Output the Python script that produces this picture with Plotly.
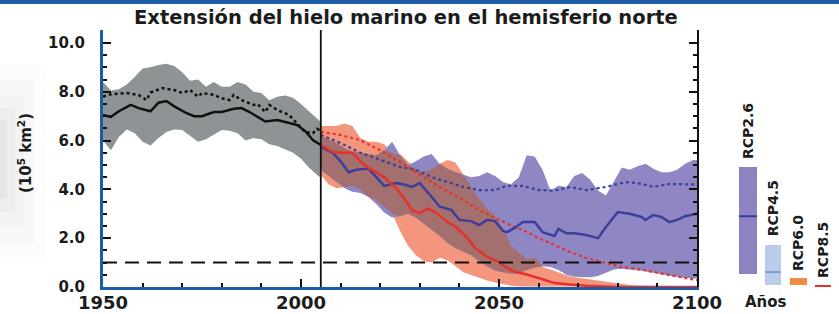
import numpy as np
import plotly.graph_objects as go

# ---------------- data ----------------
# Historical (CMIP5) 1950-2005
HIST_BAND_YEARS = [1950, 1952, 1954, 1956, 1958, 1960, 1962, 1964, 1966, 1968, 1970, 1972, 1974, 1976,
                   1978, 1980, 1982, 1984, 1986, 1988, 1990, 1992, 1994, 1996, 1998, 2000, 2002, 2004, 2005]
HIST_UPPER = [8.4, 8.05, 8.1, 8.3, 8.6, 8.95, 9.0, 9.1, 9.15, 9.05, 8.8, 8.45, 8.5, 8.2,
              8.4, 8.2, 8.2, 8.4, 8.3, 8.0, 7.95, 7.65, 7.8, 7.85, 7.75, 7.5, 7.2, 6.9, 6.76]
HIST_LOWER = [6.0, 5.6, 6.15, 6.45, 6.3, 5.95, 5.8, 6.1, 6.35, 6.45, 6.43, 6.2, 5.95, 6.05,
              6.25, 6.43, 6.4, 6.3, 6.0, 6.1, 6.05, 5.85, 5.78, 5.65, 5.5, 5.25, 4.9, 4.6, 4.47]

HIST_MEAN_YEARS = [1950, 1952, 1954, 1957, 1959, 1962, 1964, 1966, 1968, 1971, 1973, 1975, 1978, 1980,
                   1983, 1985, 1987, 1989, 1991, 1994, 1996, 1999, 2001, 2003, 2005]
HIST_MEAN = [7.05, 6.97, 7.2, 7.46, 7.33, 7.2, 7.55, 7.62, 7.4, 7.13, 7.0, 7.0, 7.17, 7.17,
             7.3, 7.33, 7.17, 6.97, 6.78, 6.84, 6.76, 6.64, 6.4, 6.02, 5.82]

HIST_SUB_YEARS = [1950, 1952, 1956, 1959, 1961, 1962, 1965, 1968, 1970, 1972, 1974, 1975, 1978, 1980,
                  1982, 1983, 1985, 1988, 1989, 1991, 1992, 1994, 1997, 1999, 2001, 2003, 2004, 2005]
HIST_SUB = [7.8, 7.9, 7.95, 7.87, 7.66, 7.97, 8.15, 8.07, 7.95, 8.07, 7.8, 7.95, 7.87, 7.73,
            7.66, 7.87, 7.66, 7.46, 7.5, 7.17, 7.46, 7.25, 7.05, 6.72, 6.35, 6.3, 6.48, 6.4]

# Projections 2005-2100 (bands on a common grid)
PROJ_YEARS = [2005, 2007, 2009, 2011, 2013, 2015, 2017, 2019, 2021, 2023, 2025, 2027, 2029, 2031,
              2033, 2035, 2037, 2039, 2041, 2043, 2045, 2047, 2049, 2051, 2053, 2055, 2057, 2059,
              2061, 2063, 2065, 2067, 2069, 2071, 2073, 2075, 2077, 2079, 2081, 2083, 2085, 2087,
              2089, 2091, 2093, 2095, 2097, 2099, 2100]
RCP85_UPPER = [6.6, 6.6, 6.6, 6.7, 6.6, 6.1, 5.95, 5.95, 5.85, 5.5, 5.45, 5.15, 4.85, 4.7,
               4.8, 5.05, 5.2, 5.1, 4.6, 4.1, 3.6, 3.2, 2.9, 2.4, 1.7, 1.4, 1.15, 1.2,
               0.82, 0.72, 0.6, 0.48, 0.4, 0.35, 0.3, 0.25, 0.2, 0.15, 0.1, 0.08, 0.06, 0.05,
               0.04, 0.04, 0.03, 0.03, 0.03, 0.02, 0.02]
RCP85_LOWER = [4.6, 4.2, 4.05, 4.1, 4.15, 4.0, 3.7, 3.55, 3.3, 3.0, 2.3, 1.7, 1.3, 1.05,
               1.0, 1.2, 1.1, 0.85, 0.6, 0.5, 0.38, 0.27, 0.18, 0.1, 0.05, 0.02, 0, 0,
               0, 0, 0, 0, 0, 0, 0, 0, 0, 0, 0, 0, 0, 0,
               0, 0, 0, 0, 0, 0, 0]
RCP26_UPPER = [6.2, 6.05, 5.9, 5.7, 5.55, 5.5, 5.45, 5.4, 5.6, 5.95, 5.4, 5.0, 5.15, 5.35,
               5.45, 5.05, 4.85, 4.7, 4.6, 4.5, 4.55, 4.7, 4.55, 4.3, 4.2, 4.5, 5.4, 5.35,
               4.8, 3.95, 4.15, 4.1, 4.55, 4.67, 4.4, 3.95, 3.75, 4.35, 4.9, 4.8, 4.95, 5.05,
               4.85, 4.7, 4.7, 4.8, 5.05, 5.2, 5.2]
RCP26_LOWER = [4.8, 4.55, 4.3, 4.05, 3.9, 3.85, 3.7, 3.4, 3.05, 2.85, 2.9, 3.0, 2.85, 2.6,
               2.35, 2.1, 1.8, 1.6, 1.45, 1.3, 1.05, 0.85, 0.68, 0.6, 0.55, 0.55, 0.7, 0.8,
               0.85, 0.82, 0.7, 0.5, 0.42, 0.4, 0.4, 0.45, 0.6, 0.72, 0.75, 0.72, 0.7, 0.65,
               0.58, 0.52, 0.46, 0.42, 0.38, 0.35, 0.35]

RCP85_MED_YEARS = [2005, 2008, 2010, 2013, 2015, 2017, 2019, 2021, 2023, 2024, 2026, 2028, 2030, 2032,
                   2034, 2037, 2039, 2042, 2044, 2047, 2050, 2052, 2054, 2056, 2060, 2064, 2068, 2072,
                   2077, 2080, 2100]
RCP85_MED = [5.82, 5.53, 5.5, 5.5, 5.15, 4.88, 4.7, 4.5, 4.2, 4.05, 3.65, 3.15, 3.03, 3.22,
             3.05, 2.66, 2.48, 2.0, 1.6, 1.23, 1.02, 0.78, 0.62, 0.55, 0.37, 0.16, 0.1, 0.05,
             0.02, 0.0, 0.0]

RCP26_MED_YEARS = [2005, 2008, 2010, 2012, 2014, 2017, 2019, 2021, 2024, 2026, 2028, 2030, 2033, 2035,
                   2038, 2040, 2043, 2045, 2047, 2049, 2051, 2052, 2054, 2056, 2059, 2061, 2064, 2065,
                   2067, 2069, 2072, 2075, 2077, 2080, 2083, 2086, 2087, 2089, 2091, 2093, 2095, 2097,
                   2100]
RCP26_MED = [5.74, 5.5, 5.15, 4.7, 4.8, 4.85, 4.5, 4.14, 4.26, 4.2, 4.1, 4.26, 3.69, 3.3,
             3.15, 2.75, 2.7, 2.54, 2.75, 2.7, 2.3, 2.25, 2.42, 2.66, 2.66, 2.25, 2.09, 2.38,
             2.2, 2.2, 2.13, 2.0, 2.46, 3.07, 3.0, 2.87, 2.75, 2.95, 2.87, 2.66, 2.75, 2.9,
             3.0]

RCP26_SUB_YEARS = [2005, 2010, 2015, 2020, 2025, 2029, 2033, 2037, 2041, 2045, 2049, 2052, 2056, 2060,
                   2064, 2068, 2072, 2077, 2082, 2085, 2089, 2093, 2098, 2100]
RCP26_SUB = [6.23, 5.9, 5.5, 5.2, 4.92, 4.8, 4.5, 4.3, 4.1, 3.97, 3.97, 4.15, 4.14, 3.97,
             3.95, 4.1, 3.97, 4.1, 4.3, 4.26, 4.1, 4.22, 4.2, 4.2]

RCP85_SUB_YEARS = [2005, 2010, 2015, 2020, 2025, 2030, 2035, 2040, 2045, 2050, 2054, 2056, 2060, 2064,
                   2068, 2072, 2077, 2081, 2085, 2089, 2093, 2098, 2100]
RCP85_SUB = [6.35, 6.23, 6.02, 5.6, 5.12, 4.6, 4.1, 3.65, 3.15, 2.75, 2.45, 2.34, 2.0, 1.72,
             1.43, 1.19, 0.98, 0.82, 0.74, 0.62, 0.49, 0.33, 0.28]

THRESHOLD = 1.0
REF_YEAR = 2005
X_RANGE = [1950, 2100]

# 2081-2100 ranges (legend bars)
SCENARIOS = ["RCP2.6", "RCP4.5", "RCP6.0", "RCP8.5"]
SCEN_LOW = [0.53, 0.08, 0.08, 0.0]
SCEN_HIGH = [4.9, 1.72, 0.37, 0.1]
SCEN_MED = [2.9, 0.61, None, None]
SCEN_LABEL_BASE = [5.16, 2.0, 0.57, 0.29]

Y_TICKS = [0, 2, 4, 6, 8, 10]
X_TICKS = [1950, 2000, 2050, 2100]

# ---------------- styling ----------------
FONT = "DejaVu Sans"
TXT = "#1c1c1c"
BLUE_AX = "#1f5ca6"
GREY = "#8e9496"
SALMON = "#f4967d"
PURPLE = "#8f87c3"
BROWN = "#a3706f"
RED = "#e8302a"
NAVY = "#3c3f9a"
SCEN_COLORS = ["#8c84c0", "#b9cdea", "#f08c45", "#e8302a"]
SCEN_MED_COLORS = ["#3d3f9a", "#7f9fd0", "#f08c45", "#e8302a"]
SCEN_WIDTHS = [0.72, 0.64, 0.68, 0.64]

Y_MAX = 10.53

# plot area in pixels
L, R, T, B = 103, 5, 30, 27
W, H = 839, 314
PW, PH = W - L - R, H - T - B


def px_x(px):
    return (px - L) / PW


def px_y(py):
    return (H - B - py) / PH


def band(x, lo, hi, color):
    x = list(x)
    return go.Scatter(x=x + x[::-1], y=list(hi) + list(lo)[::-1], fill="toself",
                      fillcolor=color, line=dict(width=0), mode="lines",
                      hoverinfo="skip", showlegend=False)


fig = go.Figure()

fig.add_trace(band(HIST_BAND_YEARS, HIST_LOWER, HIST_UPPER, GREY))
fig.add_trace(band(PROJ_YEARS, RCP85_LOWER, RCP85_UPPER, SALMON))
fig.add_trace(band(PROJ_YEARS, RCP26_LOWER, RCP26_UPPER, PURPLE))
ov_hi = np.minimum(np.array(RCP85_UPPER), np.array(RCP26_UPPER))
ov_lo = np.maximum(np.array(RCP85_LOWER), np.array(RCP26_LOWER))
ov_hi = np.maximum(ov_hi, ov_lo)
fig.add_trace(band(PROJ_YEARS, ov_lo, ov_hi, BROWN))


def line(x, y, color, width, dash="solid", yaxis="y"):
    return go.Scatter(x=x, y=y, mode="lines", line=dict(color=color, width=width, dash=dash),
                      hoverinfo="skip", showlegend=False, yaxis=yaxis)


fig.add_trace(line(HIST_SUB_YEARS, HIST_SUB, "#111111", 2.5, "dot"))
fig.add_trace(line(HIST_MEAN_YEARS, HIST_MEAN, "#111111", 2.5))
fig.add_trace(line(RCP26_SUB_YEARS, RCP26_SUB, NAVY, 2.2, "dot"))
fig.add_trace(line(RCP85_SUB_YEARS, RCP85_SUB, RED, 2.2, "dot"))
fig.add_trace(line(RCP26_MED_YEARS, RCP26_MED, NAVY, 2.5))
fig.add_trace(line(RCP85_MED_YEARS, RCP85_MED, RED, 2.5))

# threshold dashed line (on the right-hand overlay axis, same scale)
fig.add_trace(line(X_RANGE, [THRESHOLD, THRESHOLD], "#111111", 2, "14px,8px", yaxis="y2"))

# legend bars (2081-2100)
idx = list(range(len(SCENARIOS)))
fig.add_trace(go.Bar(x=idx, y=[h - l for h, l in zip(SCEN_HIGH, SCEN_LOW)], base=SCEN_LOW,
                     width=SCEN_WIDTHS, marker=dict(color=SCEN_COLORS, line=dict(width=0)),
                     xaxis="x2", yaxis="y", hoverinfo="skip", showlegend=False))
for i, m in enumerate(SCEN_MED):
    if m is None:
        continue
    fig.add_trace(go.Scatter(x=[i - SCEN_WIDTHS[i] / 2, i + SCEN_WIDTHS[i] / 2], y=[m, m],
                             mode="lines", xaxis="x2", yaxis="y",
                             line=dict(color=SCEN_MED_COLORS[i], width=2), hoverinfo="skip",
                             showlegend=False))

annotations = []
for i, (name, yb) in enumerate(zip(SCENARIOS, SCEN_LABEL_BASE)):
    annotations.append(dict(text=name, x=i, y=yb, xref="x2", yref="y", textangle=-90,
                            xanchor="center", yanchor="bottom", showarrow=False,
                            font=dict(family=FONT, size=14, color=TXT, weight="bold")))

annotations.append(dict(text="Extensión del hielo marino en el hemisferio norte",
                        x=px_x(406), y=px_y(18), xref="paper", yref="paper",
                        xanchor="center", yanchor="middle", showarrow=False,
                        font=dict(family=FONT, size=19.5, color=TXT, weight="bold")))
annotations.append(dict(text="(10<sup>5</sup> km<sup>2</sup>)", x=px_x(25), y=px_y(153),
                        xref="paper", yref="paper", textangle=-90, xanchor="center",
                        yanchor="middle", showarrow=False,
                        font=dict(family=FONT, size=15, color=TXT, weight="bold")))
annotations.append(dict(text="Años", x=px_x(766), y=px_y(302), xref="paper", yref="paper",
                        xanchor="center", yanchor="middle", showarrow=False,
                        font=dict(family=FONT, size=15, color=TXT, weight="bold")))

shapes = [
    # vertical line at end of historical period
    dict(type="line", xref="x", yref="paper", x0=REF_YEAR, x1=REF_YEAR, y0=0, y1=1,
         line=dict(color="#111111", width=1.8), layer="above"),
    # top blue rule of the page
    dict(type="rect", xref="paper", yref="paper", x0=px_x(0), x1=px_x(W), y0=px_y(4), y1=px_y(0),
         fillcolor="#1f5ca6", line=dict(width=0), layer="below"),
]
# soft grey page-curl shading at the left edge
for wpx, y0, y1, op in [(46, 65, 258, 0.025), (34, 80, 244, 0.03), (24, 95, 228, 0.035),
                        (15, 108, 212, 0.04), (7, 120, 198, 0.05)]:
    shapes.append(dict(type="rect", xref="paper", yref="paper", x0=px_x(0), x1=px_x(wpx),
                       y0=px_y(y1), y1=px_y(y0), fillcolor="#707070", opacity=op,
                       line=dict(width=0), layer="below"))

fig.update_layout(
    width=W, height=H,
    margin=dict(l=L, r=R, t=T, b=B, pad=0, autoexpand=False),
    paper_bgcolor="white", plot_bgcolor="rgba(0,0,0,0)",
    font=dict(family=FONT, color=TXT),
    showlegend=False,
    annotations=annotations,
    shapes=shapes,
    bargap=0,
    xaxis=dict(domain=[0, px_x(697)], range=X_RANGE, showgrid=False, zeroline=False,
               showline=True, linecolor=BLUE_AX, linewidth=3, automargin=False,
               ticks="inside", tickvals=X_TICKS, ticklen=8, tickwidth=2, tickcolor="#111111",
               minor=dict(dtick=10, ticks="inside", ticklen=4, tickwidth=1.5, tickcolor="#111111"),
               tickfont=dict(family=FONT, size=18, color=TXT, weight="bold"),
               ticklabelstandoff=-3, anchor="y"),
    xaxis2=dict(domain=[px_x(730), 1], range=[-0.72, 3.44], visible=False, anchor="y"),
    yaxis=dict(range=[0, Y_MAX], showgrid=False, zeroline=False, showline=True,
               linecolor=BLUE_AX, linewidth=3, ticks="inside", tickvals=Y_TICKS,
               ticklen=8, tickwidth=2, tickcolor="#111111", automargin=False,
               minor=dict(dtick=0.5, ticks="inside", ticklen=4, tickwidth=1.5, tickcolor="#111111"),
               tickformat=".1f", tickfont=dict(family=FONT, size=15, color=TXT, weight="bold"),
               ticklabelstandoff=12, anchor="x"),
    yaxis2=dict(range=[0, Y_MAX], overlaying="y", side="right", anchor="x", showgrid=False,
                zeroline=False, showline=True, linecolor="#111111", linewidth=2,
                ticks="inside", tickvals=Y_TICKS, ticklen=8, tickwidth=2, tickcolor="#111111",
                minor=dict(dtick=0.5, ticks="inside", ticklen=4, tickwidth=1.5,
                           tickcolor="#111111"),
                showticklabels=False, automargin=False),
)

# remove the browser's default page margin so the figure sits at the window's corner
fig.write_html("out.html", config={"displayModeBar": False},
               post_script="document.body.style.margin='0';document.body.style.padding='0';"
                           "document.body.style.overflow='hidden';")
